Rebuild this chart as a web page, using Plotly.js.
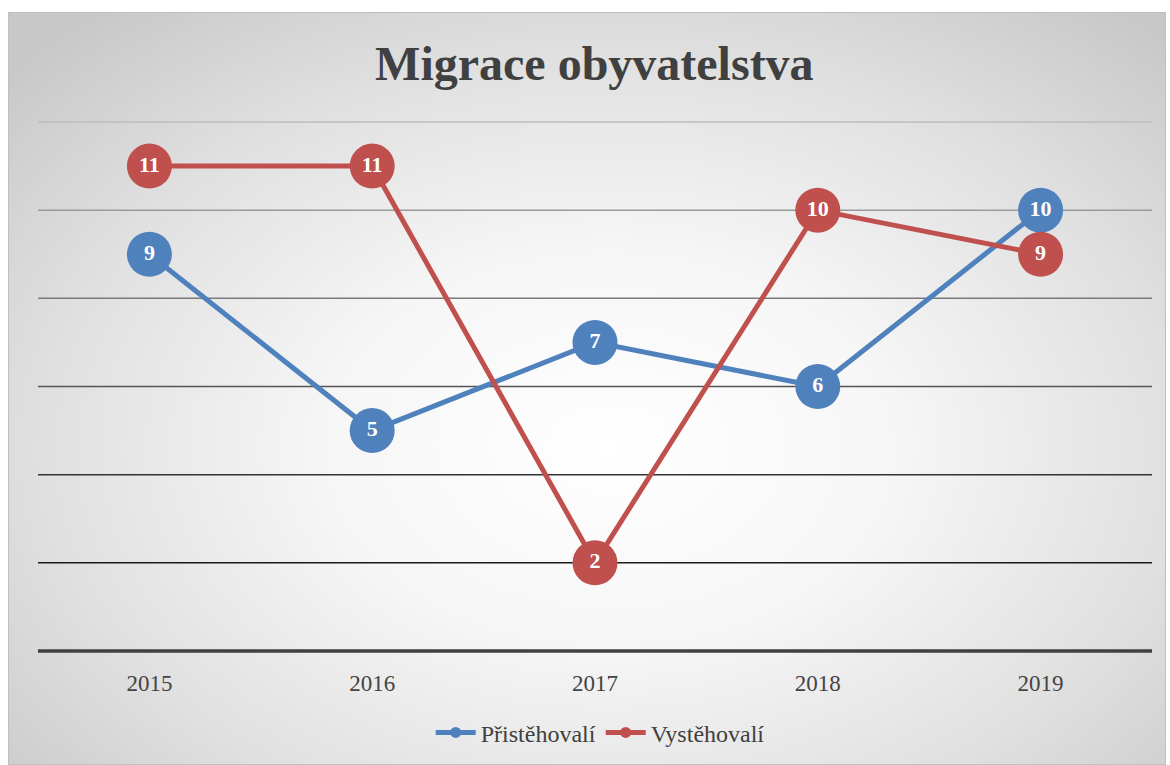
<!DOCTYPE html>
<html>
<head>
<meta charset="utf-8">
<script src="https://cdn.plot.ly/plotly-3.0.1.min.js"></script>
<style>
  html, body { margin: 0; padding: 0; background: #ffffff; }
  #wrap { position: relative; width: 1170px; height: 765px; overflow: hidden; }
  #bg { position: absolute; left: 8px; top: 12px; width: 1156px; height: 751px;
        border: 1px solid #bfbfbf;
        background: radial-gradient(ellipse 70% 75% at 52% 58%, #ffffff 0%, #f6f6f6 35%, #e0e0e0 70%, #c8c8c8 100%); }
  #chart { position: absolute; left: 0; top: 0; width: 1170px; height: 765px; }
</style>
</head>
<body>
<div id="wrap">
  <div id="bg"></div>
  <div id="chart"></div>
</div>
<script>
const years = ['2015', '2016', '2017', '2018', '2019'];
const pristehovali = [9, 5, 7, 6, 10];
const vystehovali = [11, 11, 2, 10, 9];
const gridLevels = [2, 4, 6, 8, 10, 12];
const gridColors = ['#1a1a1a', '#333333', '#555555', '#7a7a7a', '#9a9a9a', '#bdbdbd'];

const blue = '#4f81bd';
const red = '#c0504d';
const serif = 'Liberation Serif, Times New Roman, serif';

function series(name, vals, color) {
  return {
    type: 'scatter', mode: 'lines+markers+text', x: years, y: vals, name: name,
    showlegend: false,
    line: { color: color, width: 5 },
    marker: { color: color, size: 45 },
    text: vals.map(String), textposition: 'middle center',
    textfont: { family: serif, size: 22, color: '#ffffff', weight: 'bold' },
    cliponaxis: false, hoverinfo: 'skip'
  };
}
function legendItem(name, color) {
  return {
    type: 'scatter', mode: 'lines+markers', x: [null], y: [null], name: name,
    line: { color: color, width: 5 }, marker: { color: color, size: 11 }
  };
}

const traces = [
  series('Přistěhovalí', pristehovali, blue),
  series('Vystěhovalí', vystehovali, red),
  legendItem('Přistěhovalí', blue),
  legendItem('Vystěhovalí', red)
];

const shapes = gridLevels.map((lv, i) => ({
  type: 'line', xref: 'paper', yref: 'y', x0: 0, x1: 1, y0: lv, y1: lv,
  line: { color: gridColors[i], width: 1.5 }, layer: 'below'
}));
shapes.push({
  type: 'line', xref: 'paper', yref: 'y', x0: 0, x1: 1, y0: 0, y1: 0,
  line: { color: '#404040', width: 3.5 }, layer: 'below'
});

const layout = {
  width: 1170, height: 765,
  paper_bgcolor: 'rgba(0,0,0,0)', plot_bgcolor: 'rgba(0,0,0,0)',
  margin: { l: 38, r: 18, t: 119, b: 111 },
  title: { text: '<b>Migrace obyvatelstva</b>', x: 0.508, xanchor: 'center', y: 0.918, yanchor: 'middle',
           font: { family: serif, size: 48, color: '#404040' } },
  xaxis: { type: 'category', range: [-0.5, 4.5], showgrid: false, zeroline: false, showline: false,
           automargin: false,
           ticks: '', tickfont: { family: serif, size: 23, color: '#444444' }, ticklabelstandoff: 13 },
  yaxis: { range: [-0.068, 12.068], showgrid: false, zeroline: false, showline: false, showticklabels: false,
           automargin: false },
  shapes: shapes,
  showlegend: true,
  legend: { orientation: 'h', xref: 'container', yref: 'container', x: 0.513, xanchor: 'center',
            y: 0.042, yanchor: 'middle',
            font: { family: serif, size: 24, color: '#404040' }, bgcolor: 'rgba(0,0,0,0)',
            itemwidth: 40 },
  hovermode: false
};

Plotly.newPlot('chart', traces, layout, { displayModeBar: false, staticPlot: true });
</script>
</body>
</html>
